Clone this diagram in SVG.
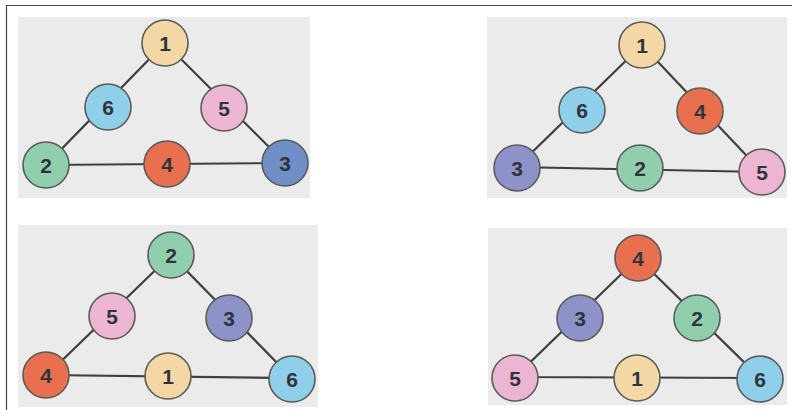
<svg xmlns="http://www.w3.org/2000/svg" width="792" height="410" viewBox="0 0 792 410">
<style>
.bg{fill:#ebebeb}
.e{stroke:#3f3f3f;stroke-width:2.2;fill:none}
.n{stroke:#5a5a5a;stroke-width:1.6}
.t{font-family:"Liberation Sans",Arial,sans-serif;font-size:21px;font-weight:bold;fill:#30343a;text-anchor:middle;dominant-baseline:central}
.c1{fill:#f3d8a6}.c2{fill:#90cfae}.c3{fill:#6f8fc6}.c3b{fill:#8d93c9}.c4{fill:#e8704f}.c5{fill:#ecb6d3}.c6{fill:#90cfe9}
</style>
<rect width="792" height="410" fill="#fff"/>
<path d="M6.5,410 V5.5 H792" stroke="#444" stroke-width="1.2" fill="none"/>
<g id="panels">
<rect class="bg" x="18" y="17" width="292" height="181"/>
<rect class="bg" x="487" y="17" width="300" height="181"/>
<rect class="bg" x="18" y="225" width="300" height="182"/>
<rect class="bg" x="488" y="228" width="299" height="177"/>
</g>
<g id="connectors">
<path class="e" d="M165,43 L46,165 L285,163 Z"/>
<path class="e" d="M642,45 L517,167 L762,172"/>
<path class="e" d="M642,45 L762,172"/>
<path class="e" d="M171,255 L47,375 L292,378 Z"/>
<path class="e" d="M638,258 L515,377 L760,378 Z"/>
</g>
<g id="p1">
<g id="p1-n1"><circle class="n c1" cx="165" cy="43" r="23"/><text class="t" x="165" y="43">1</text></g>
<g id="p1-n6"><circle class="n c6" cx="108" cy="107" r="23"/><text class="t" x="108" y="107">6</text></g>
<g id="p1-n5"><circle class="n c5" cx="224" cy="108" r="23"/><text class="t" x="224" y="108">5</text></g>
<g id="p1-n2"><circle class="n c2" cx="46" cy="165" r="23"/><text class="t" x="46" y="165">2</text></g>
<g id="p1-n4"><circle class="n c4" cx="167" cy="164" r="23"/><text class="t" x="167" y="164">4</text></g>
<g id="p1-n3"><circle class="n c3" cx="285" cy="163" r="23"/><text class="t" x="285" y="163">3</text></g>
</g>
<g id="p2">
<g id="p2-n1"><circle class="n c1" cx="642" cy="45" r="23"/><text class="t" x="642" y="45">1</text></g>
<g id="p2-n6"><circle class="n c6" cx="582" cy="110" r="23"/><text class="t" x="582" y="110">6</text></g>
<g id="p2-n4"><circle class="n c4" cx="700" cy="111" r="23"/><text class="t" x="700" y="111">4</text></g>
<g id="p2-n3"><circle class="n c3b" cx="517" cy="168" r="23"/><text class="t" x="517" y="168">3</text></g>
<g id="p2-n2"><circle class="n c2" cx="640" cy="168" r="23"/><text class="t" x="640" y="168">2</text></g>
<g id="p2-n5"><circle class="n c5" cx="762" cy="172" r="23"/><text class="t" x="762" y="172">5</text></g>
</g>
<g id="p3">
<g id="p3-n2"><circle class="n c2" cx="171" cy="255" r="23"/><text class="t" x="171" y="255">2</text></g>
<g id="p3-n5"><circle class="n c5" cx="112" cy="316" r="23"/><text class="t" x="112" y="316">5</text></g>
<g id="p3-n3"><circle class="n c3b" cx="229" cy="318" r="23"/><text class="t" x="229" y="318">3</text></g>
<g id="p3-n4"><circle class="n c4" cx="46" cy="375" r="23"/><text class="t" x="46" y="375">4</text></g>
<g id="p3-n1"><circle class="n c1" cx="168" cy="376" r="23"/><text class="t" x="168" y="376">1</text></g>
<g id="p3-n6"><circle class="n c6" cx="292" cy="379" r="23"/><text class="t" x="292" y="379">6</text></g>
</g>
<g id="p4">
<g id="p4-n4"><circle class="n c4" cx="638" cy="258" r="23"/><text class="t" x="638" y="258">4</text></g>
<g id="p4-n3"><circle class="n c3b" cx="580" cy="318" r="23"/><text class="t" x="580" y="318">3</text></g>
<g id="p4-n2"><circle class="n c2" cx="697" cy="318" r="23"/><text class="t" x="697" y="318">2</text></g>
<g id="p4-n5"><circle class="n c5" cx="515" cy="378" r="23"/><text class="t" x="515" y="378">5</text></g>
<g id="p4-n1"><circle class="n c1" cx="637" cy="378" r="23"/><text class="t" x="637" y="378">1</text></g>
<g id="p4-n6"><circle class="n c6" cx="760" cy="379" r="23"/><text class="t" x="760" y="379">6</text></g>
</g>
</svg>
